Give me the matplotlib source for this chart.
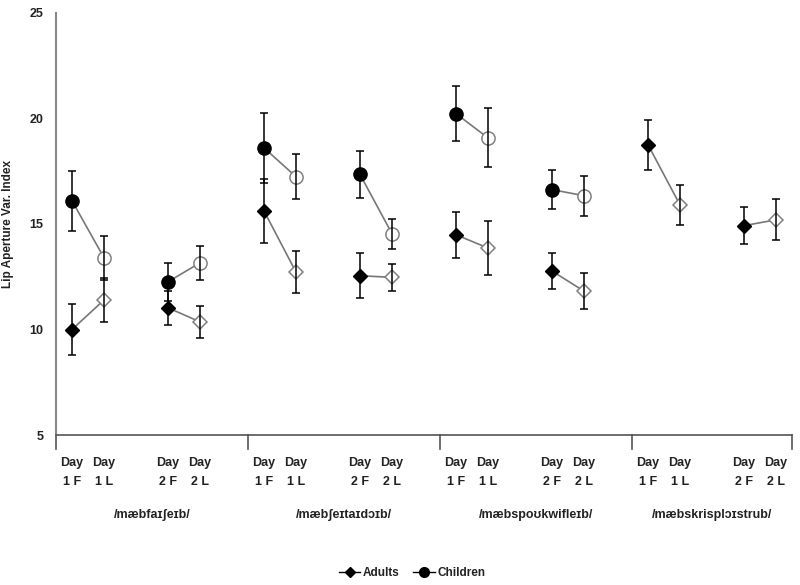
import numpy as np
import matplotlib.pyplot as plt
from matplotlib.lines import Line2D
import matplotlib.transforms as mtransforms

plt.rcParams['font.family'] = ['Liberation Sans', 'DejaVu Sans']
plt.rcParams['font.weight'] = 'bold'

# four words, each with Day 1 first/last and Day 2 first/last sessions
words = ['/mæbfaɪʃeɪb/', '/mæbʃeɪtaɪdɔɪb/', '/mæbspoʊkwifleɪb/', '/mæbskrisplɔɪstrub/']
sessions = ['Day\n1 F', 'Day\n1 L', 'Day\n2 F', 'Day\n2 L']

adults_mean = [10.0, 11.4, 11.03, 10.36,
               15.62, 12.72, 12.55, 12.47,
               14.49, 13.86, 12.77, 11.82,
               18.76, 15.9, 14.92, 15.2]
adults_err = [1.2, 1.05, 0.8, 0.76,
              1.5, 1.0, 1.07, 0.65,
              1.1, 1.3, 0.85, 0.86,
              1.18, 0.95, 0.89, 0.97]
children_mean = [16.1, 13.4, 12.26, 13.16,
                 18.61, 17.24, 17.35, 14.54,
                 20.23, 19.08, 16.63, 16.34,
                 np.nan, np.nan, np.nan, np.nan]
children_err = [1.42, 1.05, 0.9, 0.8,
                1.65, 1.07, 1.1, 0.71,
                1.3, 1.4, 0.93, 0.95,
                np.nan, np.nan, np.nan, np.nan]

# category slots: 1F, 1L, gap, 2F, 2L, gap  (last word has no trailing gap)
offsets = [0.5, 1.5, 3.5, 4.5]
x = np.array([6 * g + o for g in range(len(words)) for o in offsets])
n_slots = 6 * len(words) - 1

fig = plt.figure(figsize=(8, 5.85), dpi=100)
ax = fig.add_axes([0.07, 0.2564, 0.92, 0.7214])

txt = '#222222'
gray = '#777777'

def draw_series(mean, err, marker, ms):
    mean = np.array(mean)
    err = np.array(err)
    # connector for each day pair
    for i in range(0, len(mean), 2):
        ax.plot(x[i:i + 2], mean[i:i + 2], color=gray, lw=1.2, zorder=1)
    first = np.arange(len(mean)) % 2 == 0
    ax.plot(x[first], mean[first], ls='none', marker=marker, ms=ms,
            mfc='black', mec='black', zorder=2)
    ax.plot(x[~first], mean[~first], ls='none', marker=marker, ms=ms,
            mfc='white', mec='#808080', mew=1.1, zorder=2)
    ax.errorbar(x, mean, yerr=err, fmt='none', ecolor='black', elinewidth=1.1,
                capsize=3.2, capthick=1.1, zorder=3)

draw_series(adults_mean, adults_err, 'D', 7)
draw_series(children_mean, children_err, 'o', 9.5)

ax.set_xlim(0, n_slots)
ax.set_ylim(5, 25)
ax.set_yticks([5, 10, 15, 20, 25])
ax.set_xticks(x)
ax.set_xticklabels(sessions * len(words), fontsize=9, color=txt, linespacing=1.75)
ax.tick_params(axis='x', length=0, pad=16)
ax.tick_params(axis='y', length=0, pad=9, labelsize=9, labelcolor=txt)
ax.set_ylabel('Lip Aperture Var. Index', fontsize=8.5, color=txt, fontweight='bold')
ax.yaxis.set_label_coords(-0.057, 0.5)

for s in ['top', 'right']:
    ax.spines[s].set_visible(False)
ax.spines['left'].set_color('#888888')
ax.spines['left'].set_linewidth(1.5)
ax.spines['bottom'].set_color('#555555')
ax.spines['bottom'].set_linewidth(1.2)

# group separators below the axis
trans = mtransforms.blended_transform_factory(ax.transData, ax.transAxes)
for b in [0, 6, 12, 18, n_slots]:
    ax.plot([b, b], [0, -0.032], transform=trans, color='#555555', lw=1.2,
            clip_on=False)

group_centres = [6 * g + 3 for g in range(len(words) - 1)] + [6 * (len(words) - 1) + 2.5]
for c, w in zip(group_centres, words):
    ax.text(c, -0.19, w, transform=trans, ha='center', va='center',
            fontsize=9, color=txt)

handles = [Line2D([], [], color='black', lw=1, marker='D', ms=5),
           Line2D([], [], color='black', lw=1, marker='o', ms=7)]
fig.legend(handles, ['Adults', 'Children'], loc='center', ncol=2,
           bbox_to_anchor=(0.515, 0.02), frameon=False, fontsize=8.5,
           handlelength=1.8, columnspacing=1.2, handletextpad=0.2,
           labelcolor=txt)

fig.savefig('out.png', dpi=100)
